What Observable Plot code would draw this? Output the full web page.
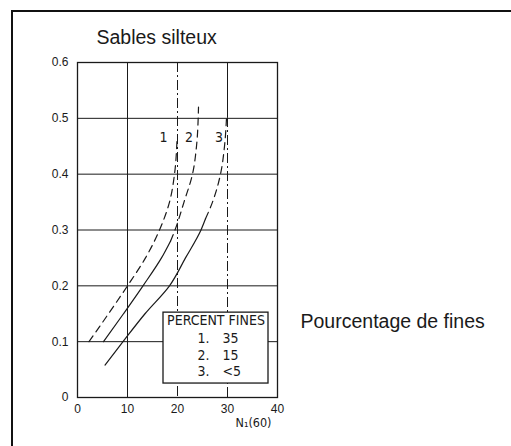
<!DOCTYPE html>
<html><head><meta charset="utf-8">
<script src="https://cdn.jsdelivr.net/npm/d3@7"></script>
<script src="https://cdn.jsdelivr.net/npm/@observablehq/plot@0.6"></script>
<style>
html,body{margin:0;padding:0;background:#fff;}
#wrap{position:relative;width:511px;height:446px;overflow:hidden;}
#wrap svg{position:absolute;left:0;top:0;}
#frame{position:absolute;left:11px;top:10px;width:600px;height:600px;border-left:2px solid #111;border-top:2px solid #111;pointer-events:none;}
</style></head><body>
<div id="wrap"><div id="frame"></div></div>
<script>
// axes
const xTicks = [0, 10, 20, 30, 40];
const yTicks = [0, 0.1, 0.2, 0.3, 0.4, 0.5, 0.6];
const yTickLabels = ["0", "0.1", "0.2", "0.3", "0.4", "0.5", "0.6"];
const gridY = [0.1, 0.2, 0.3, 0.4, 0.5];

// curve 1 : 35 % fines (dashed)
const c1x = [2.3, 6.2, 10.0, 13.6, 16.4, 18.4, 19.4, 19.9];
const c1y = [0.10, 0.15, 0.20, 0.25, 0.30, 0.35, 0.40, 0.46];
// curve 2 : 15 % fines (solid then dashed)
const c2xSolid = [5.2, 9.2, 13.1, 16.8, 18.6];
const c2ySolid = [0.10, 0.15, 0.20, 0.25, 0.28];
const c2xDash = [18.6, 19.5, 21.3, 23.0, 23.8, 24.2];
const c2yDash = [0.28, 0.30, 0.35, 0.40, 0.45, 0.52];
// curve 3 : <5 % fines (solid then dashed)
const c3xSolid = [5.5, 9.1, 13.5, 18.4, 21.6, 24.7, 25.6];
const c3ySolid = [0.058, 0.10, 0.15, 0.20, 0.25, 0.30, 0.32];
const c3xDash = [25.6, 27.0, 28.6, 29.4, 29.8];
const c3yDash = [0.32, 0.35, 0.40, 0.45, 0.50];

// curve labels
const curveLabels = ["1", "2", "3"];
const curveLabelX = [17.2, 22.3, 28.3];
const curveLabelY = [0.465, 0.465, 0.465];

// legend
const legendTitle = "PERCENT FINES";
const legendKeys = ["1.", "2.", "3."];
const legendValues = ["35", "15", "<5"];

// texts
const title = "Sables silteux";
const sideNote = "Pourcentage de fines";
const xLabel = "N\u2081(60)";

const seg = (xs, ys, id) => xs.map((x, i) => ({x, y: ys[i], id}));
const dashed = [...seg(c1x, c1y, "c1"), ...seg(c2xDash, c2yDash, "c2"), ...seg(c3xDash, c3yDash, "c3")];
const solid = [...seg(c2xSolid, c2ySolid, "c2"), ...seg(c3xSolid, c3ySolid, "c3")];

const ink = "#1a1a1a";
const narrow = "'Liberation Sans Narrow','DejaVu Sans Condensed','Arial Narrow',sans-serif";
const legendRows = legendKeys.map((k, i) => ({k, v: legendValues[i], y: [0.106, 0.075, 0.047][i]}));

const chart = Plot.plot({
  width: 511, height: 446,
  marginLeft: 77, marginRight: 234, marginTop: 62, marginBottom: 49,
  style: {background: "transparent", overflow: "visible", fontFamily: "'Liberation Sans', Arial, sans-serif", color: ink},
  x: {domain: [0, 40]},
  y: {domain: [0, 0.6]},
  marks: [
    Plot.ruleY(gridY, {stroke: ink, strokeWidth: 1}),
    Plot.ruleX([10], {stroke: ink, strokeWidth: 1}),
    Plot.ruleX([20], {stroke: ink, strokeWidth: 1, strokeDasharray: "10,3,2,3"}),
    Plot.ruleX([30], {y1: 0, y2: 0.5, stroke: ink, strokeWidth: 1, strokeDasharray: "10,3,2,3"}),
    Plot.ruleX([30], {y1: 0.5, y2: 0.6, stroke: ink, strokeWidth: 1}),
    Plot.line(solid, {x: "x", y: "y", z: "id", stroke: ink, strokeWidth: 1.2, curve: "monotone-y"}),
    Plot.line(dashed, {x: "x", y: "y", z: "id", stroke: ink, strokeWidth: 1.2, strokeDasharray: "7,5", curve: "monotone-y"}),
    Plot.text(curveLabels, {x: (d, i) => curveLabelX[i], y: (d, i) => curveLabelY[i], text: d => d, fontSize: 14, fontFamily: narrow, fill: ink}),
    Plot.rect([{x1: 17.2, x2: 38.2, y1: 0.025, y2: 0.152}], {x1: "x1", x2: "x2", y1: "y1", y2: "y2", fill: "white", stroke: ink, strokeWidth: 1.3}),
    Plot.text([legendTitle], {x: 27.7, y: 0.138, text: d => d, fontSize: 14, fontFamily: narrow, fill: ink}),
    Plot.text(legendRows, {x: 24, y: "y", text: "k", textAnchor: "start", fontSize: 14, fontFamily: narrow, fill: ink}),
    Plot.text(legendRows, {x: 29, y: "y", text: "v", textAnchor: "start", fontSize: 14, fontFamily: narrow, fill: ink}),
    Plot.frame({stroke: ink, strokeWidth: 1.3}),
    Plot.axisX({ticks: xTicks, tickSize: 0, tickPadding: 7, fontSize: 12, label: null}),
    Plot.axisY({ticks: yTicks, tickSize: 0, tickPadding: 9, fontSize: 12, label: null, tickFormat: (d) => yTickLabels[yTicks.indexOf(d)]}),
    Plot.text([xLabel], {x: 35.2, y: -0.046, text: d => d, fontSize: 12.5, fontFamily: narrow, fill: ink}),
    Plot.text([title], {x: 3.8, y: 0.645, text: d => d, textAnchor: "start", fontSize: 19.5, fill: ink}),
    Plot.text([sideNote], {x: 44.6, y: 0.135, text: d => d, textAnchor: "start", fontSize: 19.5, fill: ink})
  ]
});
document.getElementById("wrap").prepend(chart);
</script>
</body></html>
